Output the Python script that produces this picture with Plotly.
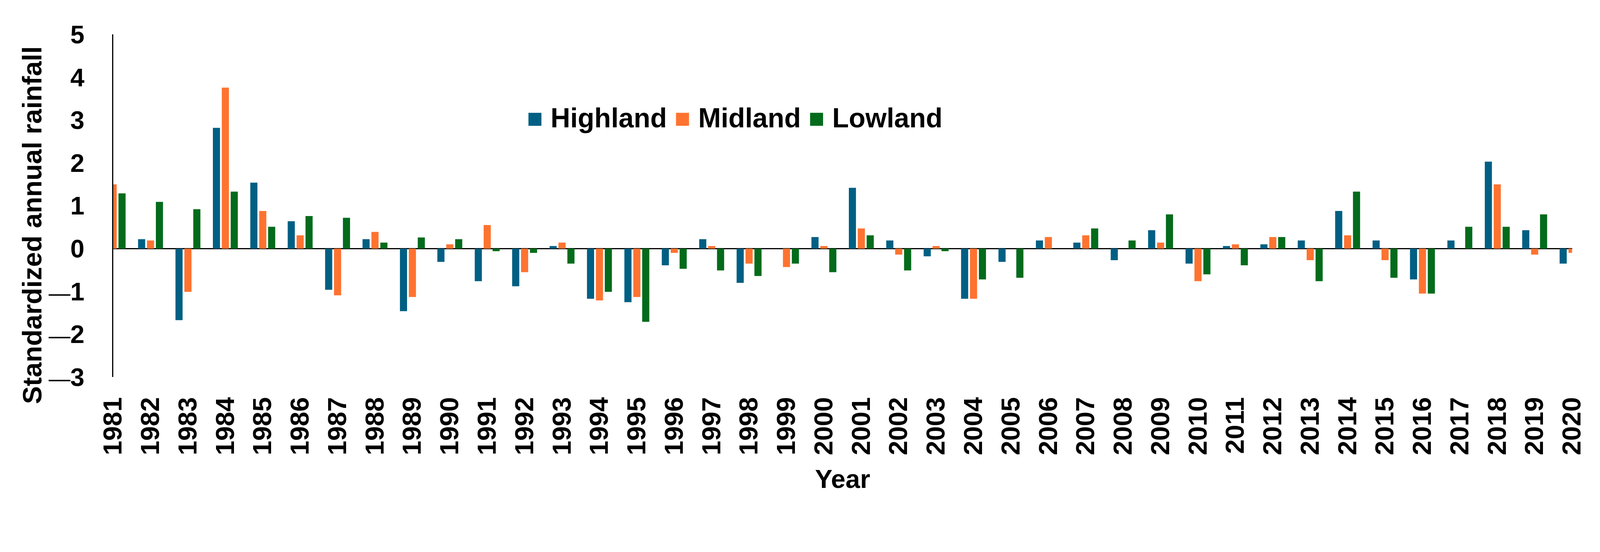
import plotly.graph_objects as go

years = list(range(1981, 2021))

highland = [1.60, 0.22, -1.67, 2.82, 1.54, 0.64, -0.96, 0.22, -1.46, -0.31,
            -0.76, -0.88, 0.06, -1.17, -1.25, -0.39, 0.22, -0.80, 0.00, 0.27,
            1.42, 0.19, -0.18, -1.17, -0.31, 0.19, 0.14, -0.27, 0.43, -0.35,
            0.06, 0.10, 0.19, 0.88, 0.19, -0.72, 0.19, 2.03, 0.43, -0.35]
midland = [1.50, 0.19, -1.01, 3.76, 0.88, 0.31, -1.09, 0.39, -1.13, 0.10,
           0.55, -0.55, 0.14, -1.21, -1.13, -0.10, 0.06, -0.35, -0.43, 0.06,
           0.47, -0.14, 0.06, -1.17, 0.00, 0.27, 0.31, 0.00, 0.14, -0.76,
           0.10, 0.27, -0.27, 0.31, -0.27, -1.05, 0.00, 1.50, -0.14, -0.10]
lowland = [1.29, 1.09, 0.92, 1.33, 0.51, 0.76, 0.72, 0.14, 0.26, 0.22,
           -0.06, -0.10, -0.35, -1.01, -1.71, -0.47, -0.51, -0.64, -0.35, -0.55,
           0.31, -0.51, -0.06, -0.72, -0.68, 0.00, 0.47, 0.19, 0.80, -0.60,
           -0.39, 0.27, -0.76, 1.33, -0.68, -1.05, 0.51, 0.51, 0.80, 0.30]

series_names = ["Highland", "Midland", "Lowland"]
series_colors = ["#005F83", "#FF7330", "#036B1B"]
series_values = [highland, midland, lowland]

y_ticks = [-3, -2, -1, 0, 1, 2, 3, 4, 5]
dash = '<span style="font-weight:normal;font-size:60px">\u2014</span>'
y_ticktext = [(dash + f"<b>{abs(v)}</b>") if v < 0 else f"<b>{v}</b>" for v in y_ticks]

x_title = "Year"
y_title = "Standardized annual rainfall"

FONT = "Liberation Sans, Arial, sans-serif"
W, H = 4413, 1413

fig = go.Figure()
for name, color, vals in zip(series_names, series_colors, series_values):
    fig.add_trace(go.Bar(x=years, y=vals, name=name, marker_color=color,
                         marker_line_width=0, showlegend=False))

# legend drawn as a line of text
legend_parts = []
for name, color in zip(series_names, series_colors):
    legend_parts.append(
        f'<span style="font-size:74px;color:{color}">\u25A0</span> <b>{name}</b>')
legend_text = " ".join(legend_parts)

fig.add_annotation(text=legend_text, xref="paper", yref="y", x=0.426, y=3.05,
                   xanchor="center", yanchor="middle", showarrow=False,
                   font=dict(family=FONT, size=75, color="black"))

# y-axis title
fig.add_annotation(text=f"<b>{y_title}</b>", xref="paper", yref="paper",
                   x=-0.0554, y=0.443, textangle=-90, showarrow=False,
                   xanchor="center", yanchor="middle",
                   font=dict(family=FONT, size=74, color="black"))

fig.update_layout(
    width=W, height=H,
    margin=dict(l=312, r=77, t=95, b=373),
    paper_bgcolor="white", plot_bgcolor="white",
    barmode="group", bargap=0.286, bargroupgap=0.2,
    font=dict(family=FONT, color="black"),
)
fig.update_xaxes(
    type="linear", range=[1981, 2020], tickvals=years,
    ticktext=[f"<b>{y}</b>" for y in years], tickangle=-90,
    tickfont=dict(size=72, family=FONT, color="black"),
    showgrid=False, zeroline=False, showline=False, ticks="",
    ticklabelstandoff=40,
    title=dict(text=f"<b>{x_title}</b>", font=dict(size=72, family=FONT, color="black"), standoff=40),
)
fig.update_yaxes(
    range=[-3, 5], tickvals=y_ticks, ticktext=y_ticktext,
    tickfont=dict(size=70, family=FONT, color="black"),
    showgrid=False, showline=True, linecolor="black", linewidth=3,
    zeroline=True, zerolinecolor="black", zerolinewidth=4, ticks="",
    ticklabelstandoff=62,
)

fit_js = """
var gd = document.getElementById('{plot_id}');
document.documentElement.style.overflow = 'hidden';
document.body.style.margin = '0';
document.body.style.overflow = 'hidden';
var s = Math.min(window.innerWidth / %d, window.innerHeight / %d);
if (s < 1) {
  gd.style.transformOrigin = '0 0';
  gd.style.transform = 'scale(' + s + ')';
}
""" % (W, H)

fig.write_html("out.html", post_script=fit_js, config={"displayModeBar": False})
